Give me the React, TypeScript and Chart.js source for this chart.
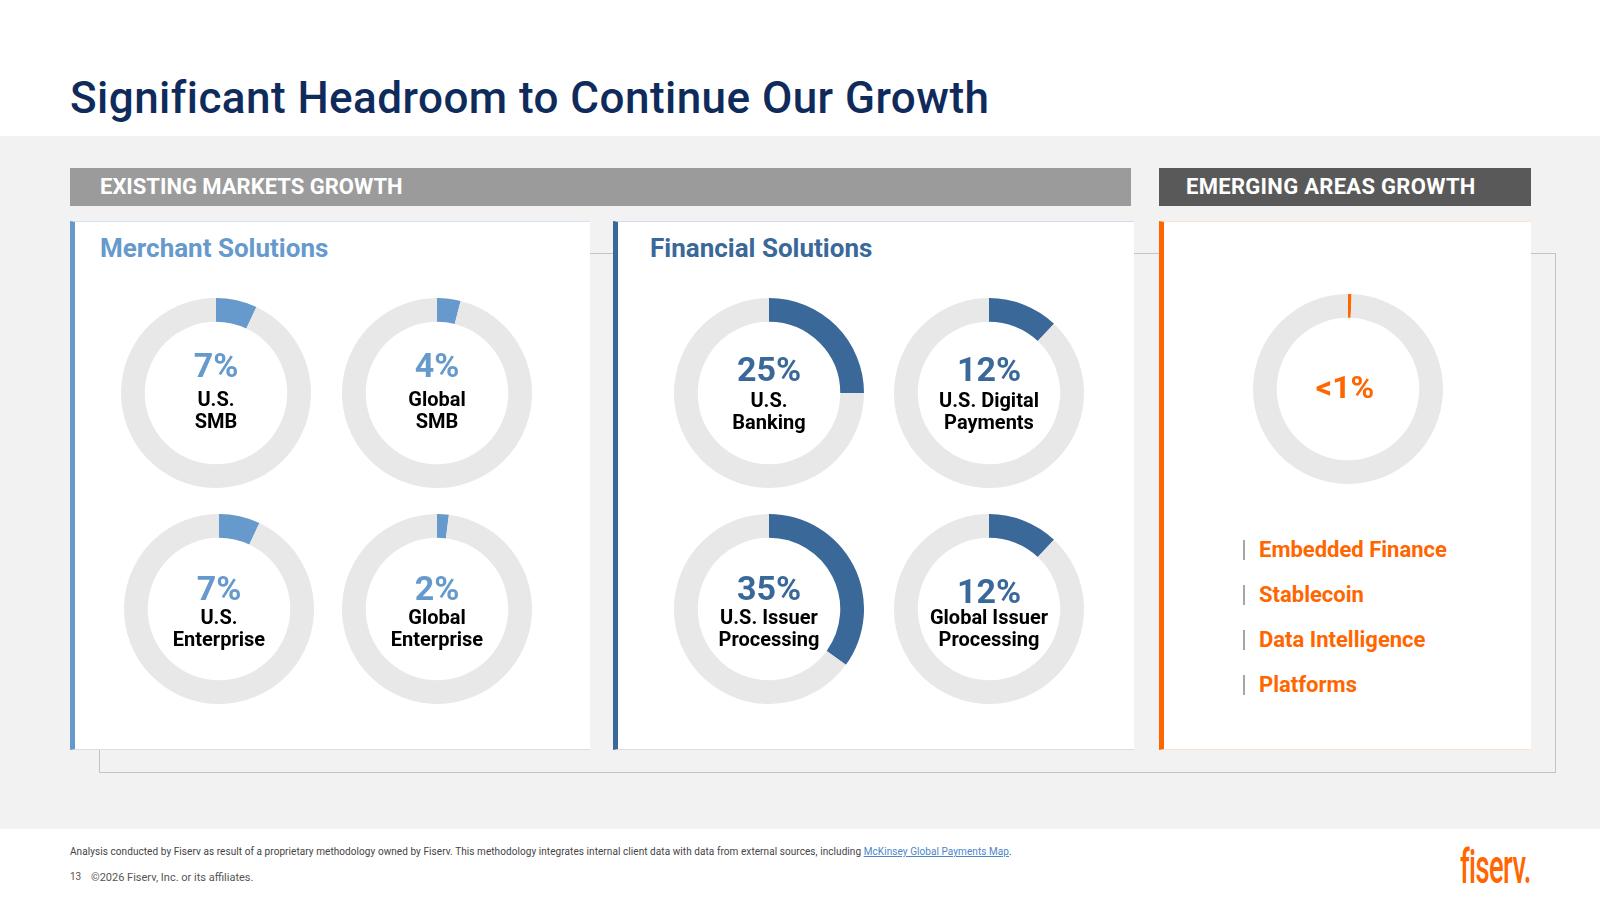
import React, { useEffect, useRef } from "react";
import { Chart, registerables } from "chart.js";

Chart.register(...registerables);

// ---- data ----
const merchantSegments = [["U.S.", "SMB"], ["Global", "SMB"], ["U.S.", "Enterprise"], ["Global", "Enterprise"]];
const merchantShares = [7, 4, 7, 2];
const financialSegments = [["U.S.", "Banking"], ["U.S. Digital", "Payments"], ["U.S. Issuer", "Processing"], ["Global Issuer", "Processing"]];
const financialShares = [25, 12, 35, 12];
const emergingShare = 0.6;
const emergingShareLabel = "<1%";
const emergingAreas = ["Embedded Finance", "Stablecoin", "Data Intelligence", "Platforms"];

// ---- styling ----
const FONT = "Roboto, 'Noto Sans', sans-serif";
const NAVY = "#0f2b5b";
const MERCHANT_BLUE = "#6699cc";
const FINANCIAL_BLUE = "#3a6899";
const ORANGE = "#ff6600";
const RING_GRAY = "#e8e8e8";
const PANEL_GRAY = "#f2f2f2";

// ring centres and text offsets (pct, line 1, line 2) for the 2x2 grids
const merchantCenters = [[216, 393], [437, 393], [219, 609], [437, 609]];
const merchantOffsets = [[-28, 6, 28], [-28, 6, 28], [-21, 8, 30], [-21, 8, 30]];
const financialCenters = [[769, 393], [989, 393], [769, 609], [989, 609]];
const financialOffsets = [[-24, 7, 29], [-24, 7, 29], [-21, 8, 30], [-18, 8, 30]];

const RADIUS = 95;

function Ring({ value, color, cx, cy }: { value: number; color: string; cx: number; cy: number }) {
  const ref = useRef<HTMLCanvasElement>(null);
  useEffect(() => {
    const chart = new Chart(ref.current as HTMLCanvasElement, {
      type: "doughnut",
      data: {
        labels: ["share", "remaining"],
        datasets: [
          {
            data: [value, 100 - value],
            backgroundColor: [color, RING_GRAY],
            borderWidth: 0,
            hoverOffset: 0,
          },
        ],
      },
      options: {
        responsive: false,
        animation: false,
        cutout: "75%",
        events: [],
        layout: { padding: 0 },
        plugins: { legend: { display: false }, tooltip: { enabled: false } },
      },
    });
    return () => chart.destroy();
  }, [value, color]);
  const size = RADIUS * 2;
  return (
    <canvas
      ref={ref}
      width={size}
      height={size}
      style={{ position: "absolute", left: cx - RADIUS, top: cy - RADIUS, width: size, height: size }}
    />
  );
}

// text positioned by the vertical middle of its capitals
function Txt({
  text,
  x,
  y,
  size,
  color,
  weight = 700,
  align = "center",
  width = 260,
  extra = {},
}: {
  text: React.ReactNode;
  x: number;
  y: number;
  size: number;
  color: string;
  weight?: number;
  align?: "center" | "left";
  width?: number;
  extra?: React.CSSProperties;
}) {
  const left = align === "center" ? x - width / 2 : x;
  return (
    <div
      style={{
        position: "absolute",
        left,
        top: y - 0.486 * size,
        width,
        fontSize: size,
        lineHeight: `${size}px`,
        fontWeight: weight,
        color,
        textAlign: align,
        whiteSpace: "nowrap",
        fontFamily: FONT,
        ...extra,
      }}
    >
      {text}
    </div>
  );
}

function Box({ style }: { style: React.CSSProperties }) {
  return <div style={{ position: "absolute", boxSizing: "border-box", ...style }} />;
}

function Grid({
  segments,
  shares,
  centers,
  offsets,
  color,
}: {
  segments: string[][];
  shares: number[];
  centers: number[][];
  offsets: number[][];
  color: string;
}) {
  return (
    <>
      {shares.map((v, i) => {
        const [cx, cy] = centers[i];
        const [dp, d1, d2] = offsets[i];
        return (
          <React.Fragment key={i}>
            <Ring value={v} color={color} cx={cx} cy={cy} />
            <Txt text={`${v}%`} x={cx} y={cy + dp} size={34} color={color} />
            <Txt text={segments[i][0]} x={cx} y={cy + d1} size={20} color="#000" />
            <Txt text={segments[i][1]} x={cx} y={cy + d2} size={20} color="#000" />
          </React.Fragment>
        );
      })}
    </>
  );
}

export default function App() {
  useEffect(() => {
    document.body.style.margin = "0";
    document.body.style.overflow = "hidden";
  }, []);

  return (
    <div
      style={{
        position: "absolute",
        left: 0,
        top: 0,
        width: 1600,
        height: 900,
        background: "#fff",
        overflow: "hidden",
        fontFamily: FONT,
      }}
    >
      <Txt
        text="Significant Headroom to Continue Our Growth"
        x={70}
        y={97}
        size={44}
        weight={500}
        color={NAVY}
        align="left"
        width={1000}
        extra={{ letterSpacing: "0.45px" }}
      />

      {/* grey content band */}
      <Box style={{ left: 0, top: 136, width: 1600, height: 693, background: PANEL_GRAY }} />

      {/* outline frame behind the panels */}
      <Box style={{ left: 99, top: 253, width: 1457, height: 520, border: "1px solid #c4c4c4" }} />

      {/* section header bars */}
      <Box style={{ left: 70, top: 168, width: 1061, height: 38, background: "#9b9b9b" }} />
      <Txt text="EXISTING MARKETS GROWTH" x={100} y={187} size={22} color="#fff" align="left" width={500} />
      <Box style={{ left: 1159, top: 168, width: 372, height: 38, background: "#595959" }} />
      <Txt
        text="EMERGING AREAS GROWTH"
        x={1186}
        y={187}
        size={22}
        color="#fff"
        align="left"
        width={340}
        extra={{ letterSpacing: "0.3px" }}
      />

      {/* panels */}
      <Box
        style={{
          left: 70,
          top: 221,
          width: 520,
          height: 529,
          background: "#fff",
          borderLeft: `5px solid ${MERCHANT_BLUE}`,
          borderTop: "1px solid #d6e3f1",
          borderBottom: "1px solid #dadde3",
        }}
      />
      <Box
        style={{
          left: 613,
          top: 221,
          width: 521,
          height: 529,
          background: "#fff",
          borderLeft: `5px solid ${FINANCIAL_BLUE}`,
          borderTop: "1px solid #d2dcea",
          borderBottom: "1px solid #dadde3",
        }}
      />
      <Box
        style={{
          left: 1159,
          top: 221,
          width: 372,
          height: 529,
          background: "#fff",
          borderLeft: `5px solid ${ORANGE}`,
          borderTop: "1px solid #ffe1cc",
          borderBottom: "1px solid #ffe1cc",
        }}
      />

      <Txt text="Merchant Solutions" x={100} y={248} size={26} color={MERCHANT_BLUE} align="left" width={400} />
      <Txt text="Financial Solutions" x={650} y={248} size={26} color={FINANCIAL_BLUE} align="left" width={400} />

      <Grid
        segments={merchantSegments}
        shares={merchantShares}
        centers={merchantCenters}
        offsets={merchantOffsets}
        color={MERCHANT_BLUE}
      />
      <Grid
        segments={financialSegments}
        shares={financialShares}
        centers={financialCenters}
        offsets={financialOffsets}
        color={FINANCIAL_BLUE}
      />

      {/* emerging areas */}
      <Ring value={emergingShare} color={ORANGE} cx={1348} cy={389} />
      <Txt text={emergingShareLabel} x={1345} y={387} size={32} color={ORANGE} />
      {emergingAreas.map((t, i) => (
        <React.Fragment key={t}>
          <Box style={{ left: 1243, top: 550 + i * 45 - 10, width: 2, height: 20, background: "#a6a6a6" }} />
          <Txt text={t} x={1259} y={550 + i * 45} size={22} color={ORANGE} align="left" width={280} />
        </React.Fragment>
      ))}

      {/* footer */}
      <Txt
        text={
          <>
            Analysis conducted by Fiserv as result of a proprietary methodology owned by Fiserv. This methodology
            integrates internal client data with data from external sources, including{" "}
            <span style={{ color: "#4a86c8", textDecoration: "underline" }}>McKinsey Global Payments Map</span>.
          </>
        }
        x={70}
        y={852}
        size={10}
        weight={400}
        color="#444"
        align="left"
        width={1100}
        extra={{ letterSpacing: "0.07px" }}
      />
      <Txt text="13" x={70} y={877} size={10} weight={400} color="#555" align="left" width={30} />
      <Txt
        text="©2026 Fiserv, Inc. or its affiliates."
        x={91}
        y={877}
        size={11}
        weight={400}
        color="#555"
        align="left"
        width={300}
      />
      <Txt
        text="fiserv."
        x={1460}
        y={866}
        size={48}
        weight={500}
        color={ORANGE}
        align="left"
        width={200}
        extra={{ transform: "scaleX(0.57)", transformOrigin: "left center", letterSpacing: "-1px" }}
      />
    </div>
  );
}
